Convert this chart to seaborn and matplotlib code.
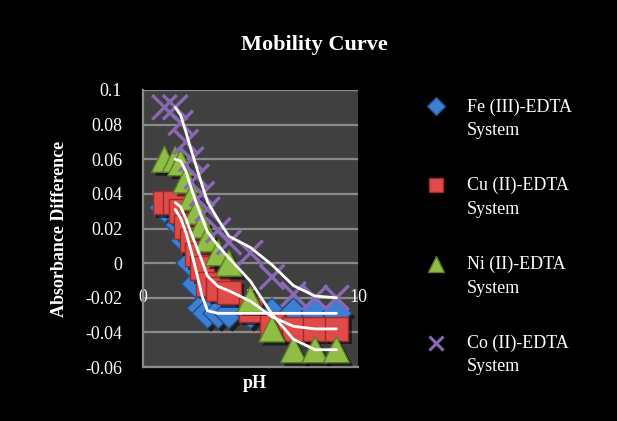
import matplotlib
matplotlib.use("Agg")
import matplotlib.pyplot as plt
from matplotlib import patheffects as pe
from matplotlib.lines import Line2D
from matplotlib.legend_handler import HandlerLine2D
from matplotlib.transforms import Affine2D
import seaborn as sns
import pandas as pd

# pH values shared by all four systems
ph = [1.0, 1.5, 1.75, 2.0, 2.25, 2.5, 2.75, 3.0, 3.5, 4.0, 5.0, 6.0, 7.0, 8.0, 9.0]

# absorbance difference per system
fe = [0.032, 0.030, 0.022, 0.013, 0.000, -0.012, -0.026, -0.029, -0.029, -0.029,
      -0.029, -0.029, -0.029, -0.029, -0.029]
cu = [0.035, 0.035, 0.030, 0.021, 0.013, 0.005, -0.003, -0.012, -0.015, -0.017,
      -0.027, -0.035, -0.038, -0.038, -0.038]
ni = [0.060, 0.060, 0.058, 0.048, 0.038, 0.030, 0.022, 0.014, 0.006, 0.000,
      -0.021, -0.038, -0.050, -0.050, -0.050]
co = [0.090, 0.090, 0.081, 0.070, 0.060, 0.050, 0.040, 0.031, 0.019, 0.012,
      0.006, -0.008, -0.018, -0.020, -0.020]

labels = ["Fe (III)-EDTA\nSystem", "Cu (II)-EDTA\nSystem",
          "Ni (II)-EDTA\nSystem", "Co (II)-EDTA\nSystem"]
y_ticks = [-0.06, -0.04, -0.02, 0, 0.02, 0.04, 0.06, 0.08, 0.1]
y_tick_labels = ["-0.06", "-0.04", "-0.02", "0", "0.02", "0.04", "0.06", "0.08", "0.1"]
x_ticks = [0, 5, 10]

sns.set_theme(style="dark")
plt.rcParams["font.family"] = ["Liberation Serif", "DejaVu Serif"]

fig = plt.figure(figsize=(6.17, 4.21), dpi=100, facecolor="black")
W, H = 617, 421
ax = fig.add_axes([143 / W, 1 - 367 / H, (358 - 143) / W, (367 - 90) / H])
ax.set_facecolor("#404040")
ax.set_xlim(0, 10)
ax.set_ylim(-0.06, 0.1)

# grid and axes frame
ax.set_yticks(y_ticks)
ax.set_yticklabels(y_tick_labels)
ax.set_xticks(x_ticks)
ax.grid(False)
for yv in y_ticks:
    ax.axhline(yv, color="#8a8a8a", lw=1.6, zorder=0.5)
for side in ["top", "right"]:
    ax.spines[side].set_visible(False)
for side in ["left", "bottom"]:
    ax.spines[side].set_color("#8a8a8a")
    ax.spines[side].set_linewidth(1.6)
ax.tick_params(axis="y", length=0, pad=15, labelsize=13, labelcolor="white")
ax.tick_params(axis="x", length=0, labelbottom=False)

# horizontal tick labels sit on the -0.02 gridline
for xv in x_ticks:
    ax.text(xv, -0.02, str(xv), ha="center", va="center", fontsize=13,
            color="white", zorder=1)

shadow = [pe.SimplePatchShadow(offset=(2.5, -2.5), alpha=0.55, shadow_rgbFace="black"),
          pe.Normal()]

series = [
    (fe, "D", 240, "#3f7fcf", "#1f4f8f"),
    (cu, "s", 290, "#e04a48", "#9c2a2a"),
    (ni, "^", 350, "#8fbd45", "#5a7f25"),
]
for vals, mk, size, face, edge in series:
    sns.scatterplot(x=ph, y=vals, marker=mk, s=size, color=face,
                    edgecolor=edge, linewidth=1.0, ax=ax, zorder=3)
    ax.collections[-1].set_path_effects(shadow)

sns.scatterplot(x=ph, y=co, marker="x", s=310, color="#8a68b8", linewidth=2.4,
                ax=ax, zorder=3)
ax.collections[-1].set_path_effects(shadow)

# two-point moving average trendlines
for vals in [fe, cu, ni, co]:
    trend = pd.Series(vals).rolling(2).mean()
    sns.lineplot(x=ph[1:], y=trend[1:].values, color="white", lw=2.0, ax=ax,
                 zorder=4, sort=False)

ax.set_xlabel("")
ax.set_ylabel("Absorbance Difference", fontsize=13, fontweight="bold",
              color="white", labelpad=12)
fig.text(255 / W, 1 - 383 / H, "pH", ha="center", va="center",
         fontsize=13, fontweight="bold", color="white")
fig.text(314 / W, 1 - 45 / H, "Mobility Curve", ha="center", va="center",
         fontsize=16, fontweight="bold", color="white")


class FirstLineHandler(HandlerLine2D):
    """Marker aligned with the first line of a two-line label."""

    def create_artists(self, legend, orig_handle, xdescent, ydescent, width,
                       height, fontsize, trans):
        arts = super().create_artists(legend, orig_handle, xdescent, ydescent,
                                      width, height, fontsize, trans)
        for a in arts:
            a.set_transform(Affine2D().translate(0, 9) + trans)
        return arts


handles = [
    Line2D([], [], ls="", marker="D", ms=9, color="#3f7fcf", mec="#1f4f8f"),
    Line2D([], [], ls="", marker="s", ms=10, color="#e04a48", mec="#9c2a2a"),
    Line2D([], [], ls="", marker="^", ms=11, color="#8fbd45", mec="#5a7f25"),
    Line2D([], [], ls="", marker="x", ms=10, color="#8a68b8", mew=2.2),
]
leg = fig.legend(handles, labels, loc="upper left",
                 bbox_to_anchor=(411 / W, 1 - 82 / H), frameon=False,
                 fontsize=13, labelcolor="white", labelspacing=2.1,
                 handletextpad=1.2, handlelength=1.0,
                 handler_map={Line2D: FirstLineHandler()})
for t in leg.get_texts():
    t.set_linespacing(1.5)

fig.savefig("out.png", dpi=100, facecolor="black")
